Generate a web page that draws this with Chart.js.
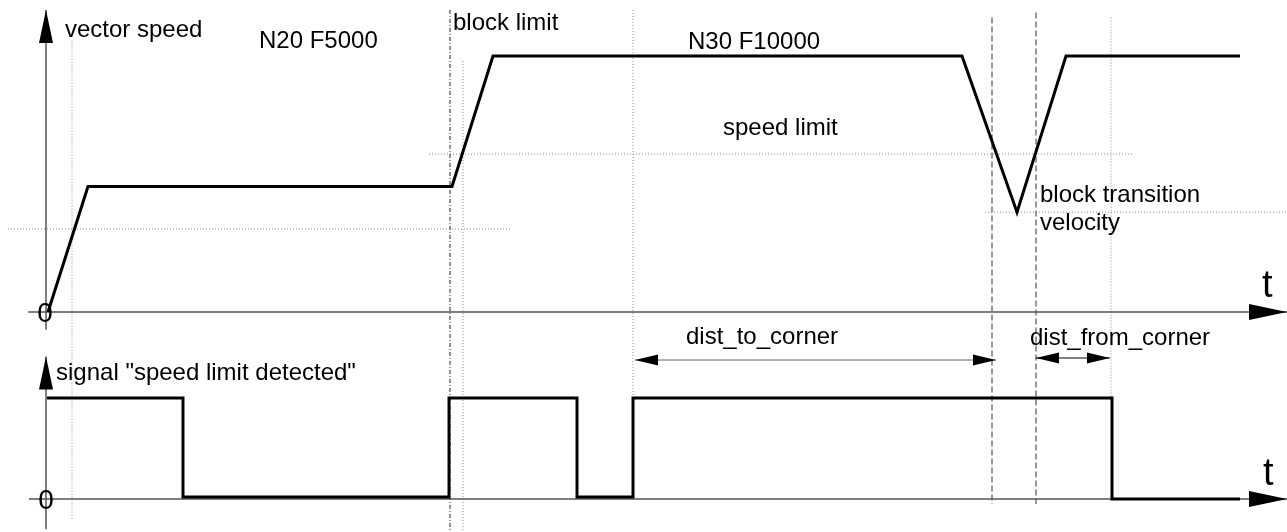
<!DOCTYPE html>
<html>
<head>
<meta charset="utf-8">
<title>vector speed / speed limit detected</title>
<script src="https://cdn.jsdelivr.net/npm/chart.js@4.4.1/dist/chart.umd.min.js"></script>
<style>
  html, body { margin: 0; padding: 0; background: #fff; }
  #wrap { width: 1287px; height: 532px; position: relative; }
</style>
</head>
<body>
<div id="wrap"><canvas id="diagram"></canvas></div>
<script>
// time axis (arbitrary units, 0 = origin of both plots)
// vector speed profile (top plot, speed in % of F10000)
const speedTime  = [0.2, 4.2, 40.6, 44.7, 91.6, 97.1, 102.0, 119.4];
const speedValue = [0, 49, 49, 100, 100, 39, 100, 100];

// signal "speed limit detected" (bottom plot, 0 / 1)
const signalTime  = [0.1, 13.7, 13.7, 40.3, 40.3, 53.1, 53.1, 58.7, 58.7, 106.6, 106.6, 119.4];
const signalValue = [1, 1, 0.02, 0.02, 1, 1, 0.02, 0.02, 1, 1, 0, 0];

// vertical marker lines (time, top end, bottom end in speed units)
const markerTime   = [2.6, 40.4, 41.7, 58.7, 94.6, 99.0, 106.5];
const markerTop    = [106, 118, 98, 118, 115, 117, 115];
const markerBottom = [-81, -86, -86, -34, -75, -75, -34];

// horizontal level lines (speed, from time, to time)
const levelValue = [32.4, 61.7, 39];
const levelFrom  = [-3.8, 38.3, 93.9];
const levelTo    = [46.6, 108.6, 124.1];

// distance arrows on the signal plot
const distFrom  = [58.9, 99.0];
const distTo    = [95.0, 106.4];
const distLevel = [1.376, 1.396];

const markerKind = ['dot', 'dashdot', 'dot', 'dot', 'dash', 'dash', 'dot'];
const kindStyle = {
  dot:     { color: '#8a8a8a', dash: [1, 2], width: 1 },
  dashdot: { color: '#222',    dash: [4, 2, 1, 2], width: 1 },
  dash:    { color: '#777',    dash: [6, 3], width: 1.5 }
};

function pts(xs, ys) {
  return xs.map(function (t, i) { return { x: t, y: ys[i] }; });
}

const datasets = [];

datasets.push({
  data: pts(speedTime, speedValue), yAxisID: 'ySpeed',
  borderColor: '#000', borderWidth: 3
});
datasets.push({
  data: pts(signalTime, signalValue), yAxisID: 'ySig',
  borderColor: '#000', borderWidth: 3
});

// axes
datasets.push({ data: pts([-1.8, 124.1], [0, 0]), yAxisID: 'ySpeed', borderColor: '#555', borderWidth: 1.5, arrow: true });
datasets.push({ data: pts([0, 0], [-6.9, 118]), yAxisID: 'ySpeed', borderColor: '#555', borderWidth: 1.5, arrow: true });
datasets.push({ data: pts([-1.7, 124.1], [0, 0]), yAxisID: 'ySig', borderColor: '#555', borderWidth: 1.5, arrow: true });
datasets.push({ data: pts([0, 0], [-0.3, 1.41]), yAxisID: 'ySig', borderColor: '#555', borderWidth: 1.5, arrow: true });

// dimension arrows
distFrom.forEach(function (t, i) {
  datasets.push({
    data: pts([t, distTo[i]], [distLevel[i], distLevel[i]]), yAxisID: 'ySig',
    borderColor: i === 0 ? '#666' : '#000', borderWidth: 1, dim: true
  });
});

// guides
markerTime.forEach(function (t, i) {
  const s = kindStyle[markerKind[i]];
  datasets.push({
    data: pts([t, t], [markerTop[i], markerBottom[i]]), yAxisID: 'ySpeed',
    borderColor: s.color, borderDash: s.dash, borderWidth: s.width
  });
});
levelValue.forEach(function (v, i) {
  const s = kindStyle.dot;
  datasets.push({
    data: pts([levelFrom[i], levelTo[i]], [v, v]), yAxisID: 'ySpeed',
    borderColor: s.color, borderDash: s.dash, borderWidth: s.width
  });
});

// text labels: [text, time, value, axis, size, align]
const labels = [
  ['vector speed', 1.9, 107.4, 'ySpeed', 24, 'left'],
  ['N20 F5000', 21.3, 103.1, 'ySpeed', 24, 'left'],
  ['block limit', 40.7, 110.2, 'ySpeed', 24, 'left'],
  ['N30 F10000', 64.2, 102.7, 'ySpeed', 24, 'left'],
  ['speed limit', 67.7, 69.1, 'ySpeed', 24, 'left'],
  ['block transition', 99.4, 43.0, 'ySpeed', 24, 'left'],
  ['velocity', 99.4, 32.0, 'ySpeed', 24, 'left'],
  ['t', 121.6, 5.9, 'ySpeed', 38, 'left'],
  ['signal "speed limit detected"', 1.0, 1.178, 'ySig', 24, 'left'],
  ['dist_to_corner', 64.0, 1.535, 'ySig', 24, 'left'],
  ['dist_from_corner', 98.4, 1.525, 'ySig', 24, 'left'],
  ['t', 121.7, 0.139, 'ySig', 38, 'left']
];
const zeroLabels = [[-0.1, 0, 'ySpeed'], [0, 0, 'ySig']];

function head(ctx, tipX, tipY, fromX, fromY, len, half) {
  const a = Math.atan2(tipY - fromY, tipX - fromX);
  ctx.save();
  ctx.translate(tipX, tipY);
  ctx.rotate(a);
  ctx.beginPath();
  ctx.moveTo(0, 0);
  ctx.lineTo(-len, -half);
  ctx.lineTo(-len, half);
  ctx.closePath();
  ctx.fillStyle = '#000';
  ctx.fill();
  ctx.restore();
}

const overlay = {
  id: 'overlay',
  afterDatasetsDraw: function (chart) {
    const ctx = chart.ctx;
    const x = chart.scales.x;
    chart.data.datasets.forEach(function (ds) {
      if (!ds.arrow && !ds.dim) return;
      const y = chart.scales[ds.yAxisID];
      const p0 = ds.data[0], p1 = ds.data[ds.data.length - 1];
      const x0 = x.getPixelForValue(p0.x), y0 = y.getPixelForValue(p0.y);
      const x1 = x.getPixelForValue(p1.x), y1 = y.getPixelForValue(p1.y);
      if (ds.arrow) {
        if (x1 !== x0) head(ctx, x1, y1, x0, y0, 38, 8);
        else head(ctx, x1, y1, x0, y0, 33, 7);
      } else {
        head(ctx, x1, y1, x0, y0, 23, 5.5);
        head(ctx, x0, y0, x1, y1, 23, 5.5);
      }
    });
    ctx.save();
    ctx.fillStyle = '#000';
    ctx.textBaseline = 'alphabetic';
    labels.forEach(function (l) {
      const y = chart.scales[l[3]];
      ctx.font = l[4] + 'px "Liberation Sans", Arial, sans-serif';
      ctx.textAlign = l[5];
      ctx.fillText(l[0], x.getPixelForValue(l[1]), y.getPixelForValue(l[2]));
    });
    ctx.font = '28px "Liberation Sans", Arial, sans-serif';
    ctx.textAlign = 'center';
    ctx.textBaseline = 'middle';
    zeroLabels.forEach(function (z) {
      const y = chart.scales[z[2]];
      ctx.fillText('0', x.getPixelForValue(z[0]), y.getPixelForValue(z[1]) + 2);
    });
    ctx.restore();
  }
};

new Chart(document.getElementById('diagram'), {
  type: 'line',
  data: { datasets: datasets },
  options: {
    responsive: true,
    maintainAspectRatio: false,
    animation: false,
    devicePixelRatio: 1,
    layout: { padding: 0 },
    elements: {
      point: { radius: 0, hoverRadius: 0 },
      line: { tension: 0, fill: false, borderJoinStyle: 'miter', borderCapStyle: 'butt' }
    },
    plugins: { legend: { display: false }, tooltip: { enabled: false } },
    events: [],
    scales: {
      x: { type: 'linear', min: -4.6, max: 124.1, display: false },
      ySpeed: { type: 'linear', min: -85.9375, max: 121.875, display: false },
      ySig: { type: 'linear', min: -0.3267, max: 4.9406, display: false }
    }
  },
  plugins: [overlay]
});
</script>
</body>
</html>
